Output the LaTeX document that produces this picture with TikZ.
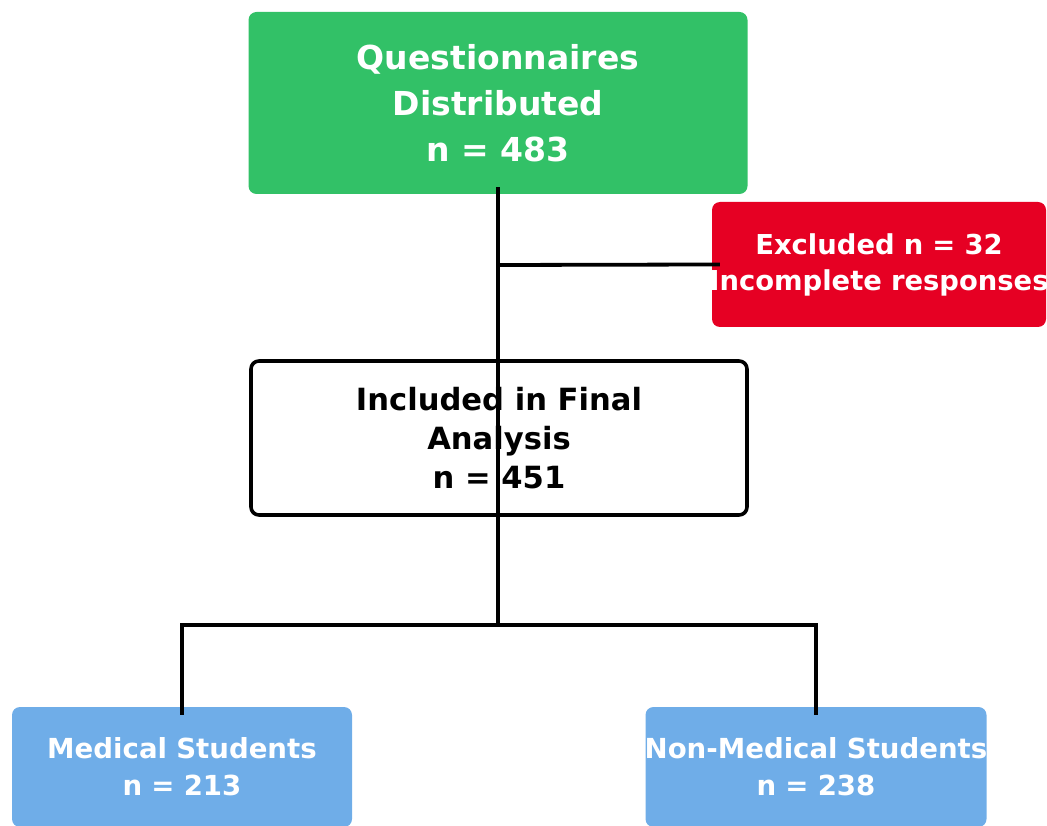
\documentclass[tikz,border=0pt]{standalone}
\usepackage{fontspec}
\setmainfont{DejaVu Sans}
\definecolor{qgreen}{RGB}{50,193,103}
\definecolor{xred}{RGB}{230,0,35}
\definecolor{sblue}{RGB}{111,173,232}
\newcommand{\fitline}[1]{\makebox[\linewidth]{#1}}
\begin{document}
\begin{tikzpicture}[x=1pt,y=-1pt,
  box/.style={rounded corners=8pt,inner sep=0pt,align=center,font=\bfseries},
  link/.style={line width=3.8pt,black}]
\useasboundingbox (0,0) rectangle (1047,826);
\node[box,fill=qgreen,text=white,minimum width=499pt,minimum height=182pt,
  font=\fontsize{33}{46}\selectfont\bfseries] (dist) at (498,103)
  {Questionnaires\\Distributed\\n = 483};
\node[box,fill=xred,text=white,minimum width=334pt,minimum height=125pt,text width=334pt,
  font=\fontsize{27.4}{36}\selectfont\bfseries] (excl) at (879,264.5)
  {\fitline{Excluded n = 32}\\\fitline{Incomplete responses}};
\node[box,draw=black,line width=3.6pt,fill=white,minimum width=496pt,minimum height=154pt,
  font=\fontsize{30.6}{39}\selectfont\bfseries] (incl) at (499,438)
  {Included in Final\\Analysis\\n = 451};
\node[box,fill=sblue,text=white,minimum width=340pt,minimum height=120pt,text width=340pt,
  font=\fontsize{27.6}{37}\selectfont\bfseries] (med) at (182,767)
  {\fitline{Medical Students}\\n = 213};
\node[box,fill=sblue,text=white,minimum width=341pt,minimum height=120pt,text width=341pt,
  font=\fontsize{27.6}{37}\selectfont\bfseries] (nonmed) at (816,767)
  {\fitline{Non-Medical Students}\\n = 238};
\coordinate (split) at (498,265);
\coordinate (fork) at (498,625);
\draw[link,shorten <=-7pt] (dist.south) -- (fork);
\draw[link,shorten >=-8pt] (split) -- (excl.west);
\draw[link,shorten >=-8pt] (fork) -| (med.north);
\draw[link,shorten >=-8pt] (fork) -| (nonmed.north);
\end{tikzpicture}
\end{document}
